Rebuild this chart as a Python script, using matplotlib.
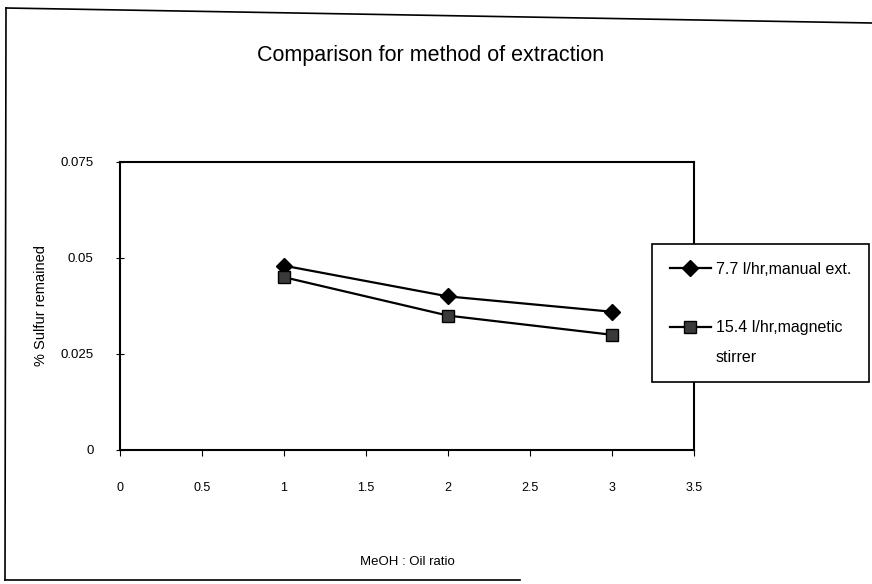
import matplotlib.pyplot as plt
from matplotlib.lines import Line2D

plt.rcParams['font.family'] = ['Liberation Sans', 'DejaVu Sans']

# data
ratio = [1, 2, 3]
manual_ext = [0.048, 0.040, 0.036]
magnetic = [0.045, 0.035, 0.030]
x_ticks = [0, 0.5, 1, 1.5, 2, 2.5, 3, 3.5]
y_ticks = [0, 0.025, 0.05, 0.075]
y_labels = ['0', '0.025', '0.05', '0.075']

fig = plt.figure(figsize=(8.72, 5.84), dpi=100)
ax = fig.add_axes([120 / 872, 1 - 450 / 584, (694 - 120) / 872, (450 - 162) / 584])

l1, = ax.plot(ratio, manual_ext, color='black', lw=1.6, marker='D', ms=8,
              mfc='black', mec='black')
l2, = ax.plot(ratio, magnetic, color='black', lw=1.6, marker='s', ms=8.5,
              mfc='#3a3a3a', mec='black')

ax.set_xlim(0, 3.5)
ax.set_ylim(0, 0.075)
ax.set_xticks(x_ticks)
ax.set_xticklabels([('%g' % v) for v in x_ticks], fontsize=9)
ax.set_yticks(y_ticks)
ax.set_yticklabels(y_labels, fontsize=9.5)
ax.tick_params(axis='x', direction='out', length=4, pad=19)
ax.tick_params(axis='y', direction='inout', length=6, pad=16)
for s in ax.spines.values():
    s.set_linewidth(1.5)

ax.set_xlabel('MeOH : Oil ratio', fontsize=9.5, labelpad=45)
ax.set_ylabel('% Sulfur remained', fontsize=10.5, labelpad=9)
fig.text(431 / 872, 1 - 55 / 584, 'Comparison for method of extraction',
         ha='center', va='center', fontsize=15.5)

# legend: second label wraps onto a line of its own
blank = Line2D([], [], color='none')
leg = fig.legend([l1, blank, l2, blank],
                 ['7.7 l/hr,manual ext.', ' ', '15.4 l/hr,magnetic', 'stirrer'],
                 loc='upper left', bbox_to_anchor=(652 / 872, 1 - 244 / 584),
                 fontsize=11.5, frameon=True, fancybox=False, framealpha=1,
                 handlelength=2.6, labelspacing=0.9, borderpad=1.1,
                 handletextpad=0.3, borderaxespad=0)
leg.get_frame().set_edgecolor('black')
leg.get_frame().set_linewidth(1.2)

# outer chart frame (right edge runs off the page)
for xs, ys in [([6, 5], [8, 580]), ([6, 872], [8, 23]), ([5, 520], [580, 580])]:
    fig.add_artist(Line2D([x / 872 for x in xs], [1 - y / 584 for y in ys],
                          color='black', lw=1.2))

fig.savefig('out.png', dpi=100)
